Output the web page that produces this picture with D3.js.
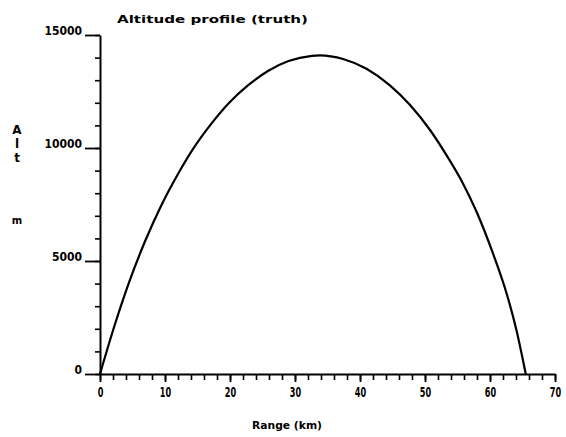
<!DOCTYPE html>
<html>
<head>
<meta charset="utf-8">
<script src="https://cdn.jsdelivr.net/npm/d3@7"></script>
<style>
  html, body { margin: 0; padding: 0; background: #fff; }
  svg { display: block; }
  text { font-family: "DejaVu Sans", "Liberation Sans", sans-serif; font-weight: bold; fill: #000; }
</style>
</head>
<body>
<svg id="chart" width="566" height="437"></svg>
<script>
// Trajectory: downrange distance (km) and altitude (m)
const rangeKm = [0, 2.3, 4.4, 6.9, 9.5, 12.0, 14.6, 17.2, 19.8, 22.8, 25.9, 29.0, 32.6, 33.8,
                 37.4, 41.0, 44.6, 47.7, 50.8, 53.3, 55.9, 57.9, 60.5, 62.6, 64.1, 65.5];
const altitudeM = [0, 2200, 4000, 5850, 7500, 8850, 10080, 11100, 11980, 12780, 13420, 13850, 14080, 14100,
                   13940, 13505, 12770, 11900, 10785, 9685, 8400, 7200, 5300, 3520, 1900, 0];

const xMajorTicks = [0, 10, 20, 30, 40, 50, 60, 70];
const xMinorTicks = d3.range(0, 71, 2);
const yMajorTicks = [0, 5000, 10000, 15000];
const yMinorTicks = d3.range(0, 15001, 1000);

const titleText = "Altitude profile (truth)";
const xLabelText = "Range (km)";
const yLabelLetters = ["A", "l", "t"];
const yUnitText = "m";

const svg = d3.select("#chart");

const x = d3.scaleLinear().domain([0, 70]).range([100, 555]);
const y = d3.scaleLinear().domain([0, 15000]).range([374, 35]);

// minor ticks
svg.append("g")
  .attr("transform", "translate(0,374)")
  .call(d3.axisBottom(x).tickValues(xMinorTicks).tickSize(6).tickFormat(""))
  .call(g => g.select(".domain").remove())
  .call(g => g.selectAll("line").attr("stroke", "#000").attr("stroke-width", 1.6));

svg.append("g")
  .attr("transform", "translate(100,0)")
  .call(d3.axisLeft(y).tickValues(yMinorTicks).tickSize(5).tickFormat(""))
  .call(g => g.select(".domain").remove())
  .call(g => g.selectAll("line").attr("stroke", "#000").attr("stroke-width", 1.6));

// major ticks and labels
const xAxis = svg.append("g")
  .attr("transform", "translate(0,374)")
  .call(d3.axisBottom(x).tickValues(xMajorTicks).tickSize(8).tickPadding(3).tickSizeOuter(0).tickFormat(d3.format("d")));
xAxis.select(".domain").attr("stroke", "#000").attr("stroke-width", 2);
xAxis.selectAll("line").attr("stroke", "#000").attr("stroke-width", 1.8);
// tall, narrow digits under the range axis
xAxis.selectAll("text")
  .attr("font-size", 12)
  .attr("fill", "#000")
  .attr("transform", "scale(0.68,1.2)");

const yAxis = svg.append("g")
  .attr("transform", "translate(100,0)")
  .call(d3.axisLeft(y).tickValues(yMajorTicks).tickSize(15).tickPadding(3).tickSizeOuter(0).tickFormat(d3.format("d")));
yAxis.select(".domain").attr("stroke", "#000").attr("stroke-width", 2);
yAxis.selectAll("line").attr("stroke", "#000").attr("stroke-width", 1.8);
yAxis.selectAll("text")
  .attr("font-size", 11.5)
  .attr("fill", "#000")
  .attr("dy", "-0.05em")
  .attr("textLength", d => String(d).length * 7.5)
  .attr("lengthAdjust", "spacingAndGlyphs");

// altitude profile
const line = d3.line()
  .x((d, i) => x(rangeKm[i]))
  .y(d => y(d))
  .curve(d3.curveMonotoneX);

svg.append("path")
  .datum(altitudeM)
  .attr("d", line)
  .attr("fill", "none")
  .attr("stroke", "#000")
  .attr("stroke-width", 2.2)
  .attr("stroke-linejoin", "round");

// title
svg.append("text")
  .attr("x", 117).attr("y", 23)
  .attr("font-size", 11)
  .attr("textLength", 191)
  .attr("lengthAdjust", "spacingAndGlyphs")
  .text(titleText);

// x axis label
svg.append("text")
  .attr("x", 252).attr("y", 429)
  .attr("font-size", 10.5)
  .attr("textLength", 70)
  .attr("lengthAdjust", "spacingAndGlyphs")
  .text(xLabelText);

// y axis label, letters stacked vertically
svg.append("g").selectAll("text")
  .data(yLabelLetters)
  .join("text")
  .attr("x", 17)
  .attr("y", (d, i) => 134 + i * 14)
  .attr("text-anchor", "middle")
  .attr("font-size", 12)
  .text(d => d);

svg.append("text")
  .attr("x", 17).attr("y", 224)
  .attr("text-anchor", "middle")
  .attr("font-size", 10)
  .text(yUnitText);
</script>
</body>
</html>
